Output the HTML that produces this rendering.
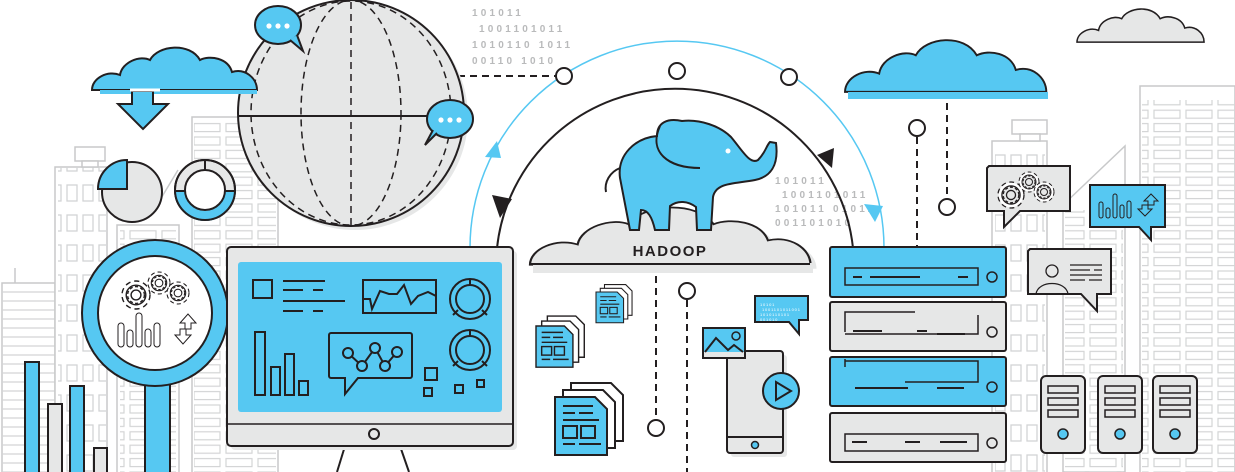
<!DOCTYPE html>
<html><head><meta charset="utf-8"><style>
html,body{margin:0;padding:0;background:#fff;width:1235px;height:472px;overflow:hidden}
svg{display:block}
</style></head><body>
<svg width="1235" height="472" viewBox="0 0 1235 472" xmlns="http://www.w3.org/2000/svg" font-family="Liberation Sans, sans-serif">
<defs>
<path id="cloud" d="M0,45 C0,33 16,25 28,30 C30,17 48,10 58,15 C66,0 98,-3 108,15 C118,10 136,13 140,27 C153,23 165,33 165,45 Z"/>
<g id="doc">
<path d="M16,-14 h40 l12,12 v46 h-52 z" fill="#fff" stroke="#231f20" stroke-width="2"/>
<path d="M8,-7 h40 l12,12 v46 h-52 z" fill="#fff" stroke="#231f20" stroke-width="2"/>
<path d="M0,0 h40 l12,12 v46 h-52 z" fill="#56c8f2" stroke="#231f20" stroke-width="2"/>
<g stroke="#231f20" stroke-width="2" fill="none">
<path d="M8,9h30M8,16h12M24,16h14M8,23h36M8,47h12M24,47h22"/>
<rect x="8" y="29" width="14" height="12"/><rect x="26" y="29" width="14" height="12"/>
</g>
</g>
<g id="gear" fill="none" stroke="#231f20">
<circle r="8" stroke-width="5" stroke-dasharray="3 2.2"/>
<circle r="8" stroke="#fff" stroke-width="3"/>
<circle r="7" stroke-width="1"/>
<circle r="3.5" stroke-width="1"/>
</g>
<pattern id="winsq" x="0" y="0" width="16" height="30" patternUnits="userSpaceOnUse">
<rect x="3" y="5" width="10" height="16" fill="none" stroke="#d3d4d5" stroke-width="1.3"/>
</pattern>
<pattern id="hstripe" x="0" y="0" width="60" height="9" patternUnits="userSpaceOnUse">
<line x1="0" y1="4" x2="60" y2="4" stroke="#d3d4d5" stroke-width="1.2"/>
</pattern>
<pattern id="winR" x="0" y="0" width="32" height="13.4" patternUnits="userSpaceOnUse">
<rect x="2" y="3" width="26" height="8" fill="none" stroke="#d3d4d5" stroke-width="1.2"/>
</pattern>
</defs>

<!-- background buildings left -->
<g fill="#fff" stroke="#c8c9ca" stroke-width="1.5">
<rect x="2" y="283" width="53" height="195"/>
<rect x="2" y="285" width="53" height="190" fill="url(#hstripe)" stroke="none"/>
<line x1="15" y1="268" x2="15" y2="283"/>
<rect x="55" y="167" width="52" height="310"/>
<rect x="58" y="167" width="48" height="310" fill="url(#winsq)" stroke="none"/>
<rect x="75" y="147" width="30" height="14"/><rect x="82" y="161" width="16" height="6"/>
<rect x="117" y="225" width="62" height="250"/>
<rect x="120" y="228" width="56" height="245" fill="url(#winR)" stroke="none"/>
<rect x="192" y="117" width="86" height="360"/>
<rect x="194" y="120" width="82" height="355" fill="url(#winR)" stroke="none"/>
<path d="M160,200 L178,170"/>
</g>
<!-- background buildings right -->
<g fill="#fff" stroke="#c8c9ca" stroke-width="1.5">
<rect x="1140" y="86" width="95" height="390"/>
<rect x="1142" y="100" width="93" height="372" fill="url(#winR)" stroke="none"/>
<path d="M1063,205 L1125,146 V472 H1063 Z"/>
<rect x="1065" y="210" width="58" height="262" fill="url(#winR)" stroke="none"/>
<rect x="992" y="141" width="55" height="335"/>
<rect x="995" y="145" width="50" height="327" fill="url(#winsq)" stroke="none"/>
<rect x="1012" y="120" width="35" height="14"/><rect x="1020" y="134" width="20" height="7"/>
</g>

<!-- binary text -->
<g fill="#b9babb" font-size="10" font-weight="bold" letter-spacing="3.2">
<text x="472" y="16">101011</text>
<text x="479" y="32">1001101011</text>
<text x="472" y="48">1010110 1011</text>
<text x="472" y="64">00110 1010</text>
<text x="775" y="184">101011</text>
<text x="782" y="198">1001101011</text>
<text x="775" y="212">101011 01011</text>
<text x="775" y="226">001101010</text>
</g>

<!-- arcs -->
<path d="M470,248 A207,207 0 0 1 884,248" fill="none" stroke="#56c8f2" stroke-width="1.5"/>
<path d="M497,248 A179,178 0 0 1 853,248" fill="none" stroke="#231f20" stroke-width="2"/>
<path d="M485,157 L501,158 L497,141 Z" fill="#56c8f2"/>
<path d="M864,204 L883,206 L875,222 Z" fill="#56c8f2"/>
<path d="M492,195 L512,199 L500,218 Z" fill="#231f20"/>
<path d="M817,155 L834,148 L832,168 Z" fill="#231f20"/>
<line x1="398" y1="76" x2="556" y2="76" stroke="#231f20" stroke-width="2" stroke-dasharray="7 5"/>
<g fill="#fff" stroke="#231f20" stroke-width="2">
<circle cx="564" cy="76" r="8"/><circle cx="677" cy="71" r="8"/><circle cx="789" cy="77" r="8"/>
</g>

<!-- globe -->
<circle cx="355" cy="117" r="113" fill="#e6e7e7"/>
<circle cx="351" cy="113" r="113" fill="#e6e7e7" stroke="#231f20" stroke-width="2"/>
<g fill="none" stroke="#231f20" stroke-width="1.5" stroke-dasharray="7 5">
<ellipse cx="351" cy="113" rx="50" ry="113"/>
<ellipse cx="351" cy="113" rx="100" ry="112"/>
<line x1="351" y1="2" x2="351" y2="226"/>
</g>
<line x1="238" y1="116" x2="430" y2="116" stroke="#231f20" stroke-width="2"/>
<g stroke="#231f20" stroke-width="2">
<ellipse cx="278" cy="25" rx="23" ry="19" fill="#56c8f2"/>
<path d="M290,40 L303,51 L297,35" fill="#56c8f2"/>
<ellipse cx="450" cy="119" rx="23" ry="19" fill="#56c8f2"/>
<path d="M437,133 L425,145 L433,130" fill="#56c8f2"/>
</g>
<g fill="#fff"><circle cx="269" cy="26" r="2.6"/><circle cx="278" cy="26" r="2.6"/><circle cx="287" cy="26" r="2.6"/>
<circle cx="441" cy="120" r="2.6"/><circle cx="450" cy="120" r="2.6"/><circle cx="459" cy="120" r="2.6"/></g>

<!-- top-left cloud & arrow -->
<use href="#cloud" transform="translate(92,45)" fill="#56c8f2" stroke="#231f20" stroke-width="2"/>
<rect x="100" y="90" width="157" height="4" fill="#56c8f2"/>
<path d="M132,91 V104 H118 L143,129 L168,104 H153 V91 Z" fill="#56c8f2" stroke="#231f20" stroke-width="2"/>
<line x1="130" y1="90" x2="160" y2="90" stroke="#fff" stroke-width="3"/>

<!-- pie -->
<circle cx="132" cy="192" r="30" fill="#e6e7e7" stroke="#231f20" stroke-width="2"/>
<path d="M98,189 A29,29 0 0 1 127,160 V189 Z" fill="#56c8f2" stroke="#231f20" stroke-width="2"/>
<!-- donut -->
<circle cx="205" cy="190" r="30" fill="#e6e7e7" stroke="#231f20" stroke-width="2"/>
<path d="M175,191 A30,30 0 0 0 235,191 H225 A20,20 0 0 1 185,191 Z" fill="#56c8f2"/>
<circle cx="205" cy="190" r="30" fill="none" stroke="#231f20" stroke-width="2"/>
<circle cx="205" cy="190" r="20" fill="#fff" stroke="#231f20" stroke-width="2"/>
<path d="M205,160 V170 M175,191 H185 M225,191 H235" stroke="#231f20" stroke-width="2"/>

<!-- bars bottom-left -->
<g stroke="#231f20" stroke-width="2">
<rect x="25" y="362" width="14" height="115" fill="#56c8f2"/>
<rect x="48" y="404" width="14" height="75" fill="#e6e7e7"/>
<rect x="70" y="386" width="14" height="90" fill="#56c8f2"/>
<rect x="94" y="448" width="13" height="30" fill="#e6e7e7"/>
</g>

<!-- magnifier -->
<rect x="145" y="380" width="25" height="100" fill="#56c8f2" stroke="#231f20" stroke-width="2"/>
<circle cx="155" cy="313" r="73" fill="#56c8f2" stroke="#231f20" stroke-width="2"/>
<circle cx="155" cy="313" r="57" fill="#fff" stroke="#231f20" stroke-width="2"/>
<use href="#gear" transform="translate(136,295) scale(1.4)"/>
<use href="#gear" transform="translate(159,283) scale(1.1)"/>
<use href="#gear" transform="translate(178,293) scale(1.1)"/>
<g fill="none" stroke="#231f20" stroke-width="1">
<rect x="118" y="323" width="6" height="24" rx="3"/><rect x="127" y="330" width="6" height="17" rx="3"/>
<rect x="136" y="313" width="6" height="34" rx="3"/><rect x="145" y="329" width="6" height="18" rx="3"/>
<rect x="154" y="323" width="6" height="24" rx="3"/>
<path d="M180,323 L188,314 L196,323 H191 V329 H185 V323 Z"/>
<path d="M175,335 L183,344 L191,335 H186 V329 H180 V335 Z"/>
</g>

<!-- monitor -->
<line x1="345" y1="446" x2="337" y2="472" stroke="#231f20" stroke-width="2"/>
<line x1="400" y1="446" x2="409" y2="472" stroke="#231f20" stroke-width="2"/>
<rect x="231" y="251" width="286" height="199" rx="4" fill="#e6e7e7"/>
<rect x="227" y="247" width="286" height="199" rx="4" fill="#e6e7e7" stroke="#231f20" stroke-width="2"/>
<rect x="238" y="262" width="264" height="150" rx="3" fill="#56c8f2"/>
<line x1="227" y1="424" x2="513" y2="424" stroke="#231f20" stroke-width="1.5"/>
<circle cx="374" cy="434" r="5" fill="none" stroke="#231f20" stroke-width="2"/>
<g fill="none" stroke="#231f20" stroke-width="2">
<rect x="253" y="280" width="19" height="18"/>
<path d="M283,281h42M283,290h20M313,290h10M283,301h62M283,311h20M313,311h10"/>
<rect x="363" y="280" width="73" height="33"/>
<polyline points="363,299 370,299 372,309 380,291 389,294 397,294 404,285 411,304 418,296 428,292 436,296"/>
<circle cx="470" cy="299" r="20"/><circle cx="470" cy="299" r="14"/>
<path d="M470,279v6M458,310l-5,5M482,310l5,5"/>
<circle cx="470" cy="350" r="20"/><circle cx="470" cy="350" r="14"/>
<path d="M470,330v6M458,361l-5,5M482,361l5,5"/>
<rect x="255" y="332" width="10" height="63"/><rect x="271" y="367" width="9" height="28"/>
<rect x="285" y="354" width="9" height="41"/><rect x="299" y="381" width="9" height="14"/>
<path d="M331,333 H410 a2,2 0 0 1 2,2 V376 a2,2 0 0 1 -2,2 H358 L345,394 V378 H331 a2,2 0 0 1 -2,-2 V335 a2,2 0 0 1 2,-2 Z"/>
<polyline points="348,353 362,366 375,348 385,366 397,352"/>
<rect x="425" y="368" width="12" height="12"/><rect x="424" y="388" width="8" height="8"/>
<rect x="455" y="385" width="8" height="8"/><rect x="477" y="380" width="7" height="7"/>
</g>
<g fill="#56c8f2" stroke="#231f20" stroke-width="2">
<circle cx="348" cy="353" r="5"/><circle cx="362" cy="366" r="5"/><circle cx="375" cy="348" r="5"/><circle cx="385" cy="366" r="5"/><circle cx="397" cy="352" r="5"/>
</g>

<!-- HADOOP cloud -->
<use href="#cloud" transform="translate(536,208) scale(1.7,1.35)" fill="#e6e7e7"/>
<use href="#cloud" transform="translate(530,204) scale(1.7,1.35)" fill="#e6e7e7" stroke="#231f20" stroke-width="1.3"/>
<path d="M630,230 L620,178 C617,155 635,138 657,136 C657,122 668,118 682,121 C700,119 720,126 731,137 C742,150 750,165 758,160 C766,152 766,146 770,142 L776,143 C779,166 770,177 755,180 C735,184 716,182 713,197 L711,230 L697,230 L696,207 C688,201 678,200 670,206 L669,230 L655,230 C652,217 648,210 641,210 L639,230 Z" fill="#56c8f2" stroke="#231f20" stroke-width="2"/>
<path d="M660,126 C648,152 668,168 700,168" fill="none" stroke="#231f20" stroke-width="2"/>
<path d="M620,168 C610,172 604,182 606,192" fill="none" stroke="#231f20" stroke-width="2"/>
<circle cx="728" cy="151" r="2.5" fill="#fff"/>
<rect x="533" y="263" width="280" height="10" fill="#e6e7e7"/>
<line x1="530" y1="264" x2="810" y2="264" stroke="#231f20" stroke-width="2"/>
<text x="670" y="256" text-anchor="middle" font-size="15" font-weight="bold" fill="#231f20" letter-spacing="1.5">HADOOP</text>

<!-- dashed connectors -->
<g stroke="#231f20" stroke-width="2" stroke-dasharray="7 5" fill="none">
<line x1="656" y1="276" x2="656" y2="420"/>
<line x1="687" y1="300" x2="687" y2="472"/>
<line x1="947" y1="103" x2="947" y2="198"/>
<line x1="917" y1="137" x2="917" y2="247"/>
</g>
<g fill="#fff" stroke="#231f20" stroke-width="2">
<circle cx="656" cy="428" r="8"/><circle cx="687" cy="291" r="8"/>
<circle cx="947" cy="207" r="8"/><circle cx="917" cy="128" r="8"/>
</g>

<!-- docs -->
<use href="#doc" transform="translate(596,292) scale(0.53)"/>
<use href="#doc" transform="translate(536,326) scale(0.71)"/>
<use href="#doc" transform="translate(555,397)"/>

<!-- image, phone, chat -->
<rect x="731" y="355" width="56" height="102" rx="3" fill="#e6e7e7"/>
<rect x="727" y="351" width="56" height="102" rx="3" fill="#e6e7e7" stroke="#231f20" stroke-width="2"/>
<line x1="727" y1="437" x2="783" y2="437" stroke="#231f20" stroke-width="2"/>
<circle cx="755" cy="445" r="3.5" fill="#56c8f2" stroke="#231f20" stroke-width="1.5"/>
<rect x="703" y="328" width="42" height="30" fill="#56c8f2" stroke="#231f20" stroke-width="2"/>
<rect x="703" y="352" width="42" height="6" fill="#e6e7e7"/>
<path d="M705,352 L716,338 L728,350 L734,345 L743,352" fill="none" stroke="#231f20" stroke-width="2"/>
<circle cx="736" cy="336" r="4" fill="none" stroke="#231f20" stroke-width="1.5"/>
<rect x="703" y="328" width="42" height="30" fill="none" stroke="#231f20" stroke-width="2"/>
<circle cx="781" cy="391" r="18" fill="#56c8f2" stroke="#231f20" stroke-width="2"/>
<path d="M776,382 L791,391 L776,400 Z" fill="none" stroke="#231f20" stroke-width="2"/>
<path d="M755,296 H808 V320 H799 V334 L789,322 H755 Z" fill="#56c8f2" stroke="#231f20" stroke-width="2"/>
<g fill="#fff" font-size="4" letter-spacing="0.8"><text x="760" y="306">10101</text><text x="762" y="311">1001101011001</text><text x="760" y="316">1010110101</text><text x="760" y="321">001010</text></g>

<!-- right cloud -->
<use href="#cloud" transform="translate(845,37) scale(1.22)" fill="#56c8f2" stroke="#231f20" stroke-width="1.6"/>
<rect x="848" y="92" width="200" height="7" fill="#56c8f2"/>
<use href="#cloud" transform="translate(1077,7) scale(0.77,0.78)" fill="#e6e7e7" stroke="#231f20" stroke-width="2"/>

<!-- servers -->
<g stroke="#231f20" stroke-width="2">
<rect x="830" y="247" width="176" height="50" rx="2" fill="#56c8f2"/>
<rect x="830" y="302" width="176" height="49" rx="2" fill="#e6e7e7"/>
<rect x="830" y="357" width="176" height="49" rx="2" fill="#56c8f2"/>
<rect x="830" y="413" width="176" height="49" rx="2" fill="#e6e7e7"/>
</g>
<g fill="none" stroke="#231f20" stroke-width="1.5">
<rect x="845" y="268" width="133" height="17"/>
<path d="M845,332 V312 H915 M978,315 V334 H845"/>
<path d="M845,367 V359 M845,361 H978 V382 H905"/>
<rect x="845" y="434" width="133" height="17"/>
<circle cx="992" cy="277" r="5"/><circle cx="992" cy="332" r="5"/><circle cx="992" cy="387" r="5"/><circle cx="992" cy="443" r="5"/>
</g>
<g stroke="#231f20" stroke-width="2">
<path d="M853,277h9M870,277h50M958,277h10M853,331h29M917,331h10M937,334h28M855,388h53M937,388h27M852,442h15M905,442h15M940,442h27"/>
</g>

<!-- right bubbles -->
<path d="M989,166 H1070 V211 H1020 L1004,227 V211 H987 V168 Z" fill="#e6e7e7" stroke="#231f20" stroke-width="2"/>
<use href="#gear" transform="translate(1011,195) scale(1.3)"/>
<use href="#gear" transform="translate(1029,182)"/>
<use href="#gear" transform="translate(1044,192)"/>
<path d="M1090,185 H1165 V227 H1151 V240 L1139,227 H1090 Z" fill="#56c8f2" stroke="#231f20" stroke-width="2"/>
<g fill="none" stroke="#231f20" stroke-width="1">
<rect x="1099" y="202" width="4" height="16" rx="2"/><rect x="1106" y="208" width="4" height="10" rx="2"/>
<rect x="1113" y="194" width="4" height="24" rx="2"/><rect x="1120" y="205" width="4" height="13" rx="2"/><rect x="1127" y="201" width="4" height="17" rx="2"/>
<path d="M1144,201 L1151,194 L1158,201 H1154 V205 H1148 V201 Z"/>
<path d="M1138,209 L1145,216 L1152,209 H1148 V205 H1142 V209 Z"/>
</g>
<path d="M1030,249 H1111 V294 H1097 V311 L1081,294 H1028 V251 Z" fill="#e6e7e7" stroke="#231f20" stroke-width="2"/>
<g fill="none" stroke="#231f20" stroke-width="1.3">
<circle cx="1052" cy="271" r="6"/><path d="M1036,294 C1038,280 1066,280 1068,294"/>
<path d="M1070,265h32M1070,270h20M1094,270h8M1070,275h32M1070,280h15M1089,280h13"/>
</g>

<!-- towers -->
<g>
<rect x="1041" y="376" width="44" height="77" rx="5" fill="#e6e7e7" stroke="#231f20" stroke-width="2"/>
<rect x="1098" y="376" width="44" height="77" rx="5" fill="#e6e7e7" stroke="#231f20" stroke-width="2"/>
<rect x="1153" y="376" width="44" height="77" rx="5" fill="#e6e7e7" stroke="#231f20" stroke-width="2"/>
<g fill="none" stroke="#231f20" stroke-width="1.5">
<rect x="1048" y="386" width="30" height="7"/><rect x="1048" y="398" width="30" height="7"/><rect x="1048" y="410" width="30" height="7"/>
<rect x="1105" y="386" width="30" height="7"/><rect x="1105" y="398" width="30" height="7"/><rect x="1105" y="410" width="30" height="7"/>
<rect x="1160" y="386" width="30" height="7"/><rect x="1160" y="398" width="30" height="7"/><rect x="1160" y="410" width="30" height="7"/>
</g>
<g fill="#56c8f2" stroke="#231f20" stroke-width="1.5">
<circle cx="1063" cy="434" r="5"/><circle cx="1120" cy="434" r="5"/><circle cx="1175" cy="434" r="5"/>
</g>
</g>
</svg>
</body></html>
